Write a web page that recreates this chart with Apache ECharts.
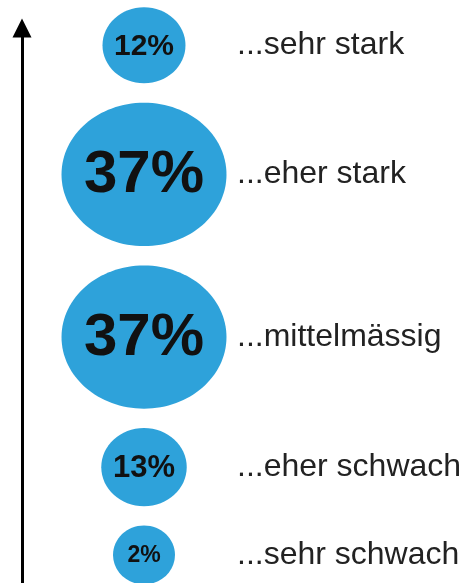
<!DOCTYPE html>
<html>
<head>
<meta charset="utf-8">
<style>
  html, body { margin: 0; padding: 0; background: #ffffff; }
  #chart { width: 476px; height: 583px; }
</style>
<script src="https://cdn.jsdelivr.net/npm/echarts@6/dist/echarts.min.js"></script>
</head>
<body>
<div id="chart"></div>
<script>
// Ordered from bottom (weakest) to top (strongest)
const categories = ['...sehr schwach', '...eher schwach', '...mittelmässig', '...eher stark', '...sehr stark'];
const shares = [2, 13, 37, 37, 12];

// bubble size as a function of share (visual encoding)
function bubbleWidth(v) {
  return 58.6 + 1.628 * v + 0.0337 * v * v;
}
function bubbleHeight(v) {
  return 0.82 * bubbleWidth(v) + 8;
}

// Packed vertical layout (in axis units = px): bubbles stacked with a constant gap
const GAP = 19.4;
const START = 28;
const stackPos = [];
shares.forEach(function (v, i) {
  if (i === 0) {
    stackPos.push(START);
  } else {
    stackPos.push(stackPos[i - 1] + bubbleHeight(shares[i - 1]) / 2 + GAP + bubbleHeight(v) / 2);
  }
});

const chart = echarts.init(document.getElementById('chart'), null, { renderer: 'canvas' });

function renderItem(params, api) {
  const pos = api.value(0);
  const share = api.value(1);
  const pt = api.coord([0, pos]);
  const w = bubbleWidth(share);
  const h = bubbleHeight(share);
  const cx = pt[0] + 122;
  const cy = pt[1];
  const pctSize = Math.round(0.364 * w);
  return {
    type: 'group',
    children: [
      {
        type: 'ellipse',
        shape: { cx: cx, cy: cy, rx: w / 2, ry: h / 2 },
        style: { fill: '#2ea2da' }
      },
      {
        type: 'text',
        x: cx,
        y: cy + 1,
        style: {
          text: share + '%',
          font: 'bold ' + pctSize + 'px "Liberation Sans", Arial, sans-serif',
          fill: '#111111',
          align: 'center',
          verticalAlign: 'middle'
        }
      },
      {
        type: 'text',
        x: cx + 93,
        y: cy,
        style: {
          text: categories[params.dataIndex],
          font: '32px "Liberation Sans", Arial, sans-serif',
          fill: '#222222',
          align: 'left',
          verticalAlign: 'middle'
        }
      }
    ]
  };
}

chart.setOption({
  animation: false,
  backgroundColor: '#ffffff',
  grid: { left: 22, right: 0, top: 28, bottom: 0 },
  xAxis: { type: 'value', min: 0, max: 1, show: false },
  yAxis: {
    type: 'value',
    min: 0,
    max: 555,
    axisLine: {
      show: true,
      symbol: ['none', 'triangle'],
      symbolSize: [19, 19],
      lineStyle: { color: '#000000', width: 3 }
    },
    axisTick: { show: false },
    axisLabel: { show: false },
    splitLine: { show: false }
  },
  series: [{
    type: 'custom',
    renderItem: renderItem,
    encode: { y: 0 },
    data: shares.map(function (v, i) { return [stackPos[i], v]; })
  }]
});
</script>
</body>
</html>
